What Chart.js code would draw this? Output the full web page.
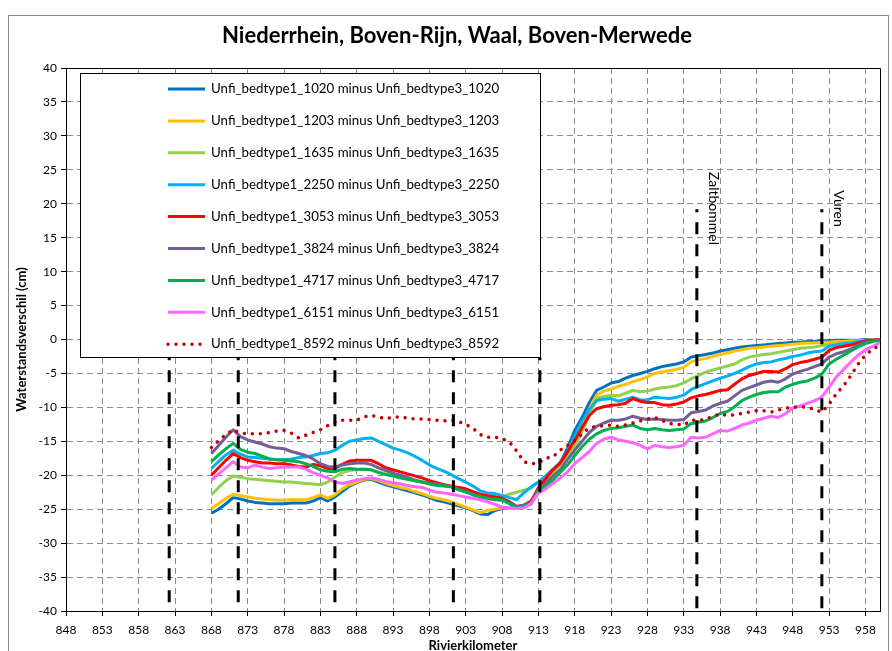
<!DOCTYPE html>
<html>
<head>
<meta charset="utf-8">
<script src="https://cdn.jsdelivr.net/npm/chart.js@4.4.1/dist/chart.umd.min.js"></script>
<style>
  html, body { margin: 0; padding: 0; background: #fff; overflow: hidden; }
  #c { display: block; }
</style>
</head>
<body>
<canvas id="c" width="892" height="651"></canvas>
<script>
// ---- data ----
const titleText = 'Niederrhein, Boven-Rijn, Waal, Boven-Merwede';
const xTitle = 'Rivierkilometer';
const yTitle = 'Waterstandsverschil (cm)';

const xTicks = [848, 853, 858, 863, 868, 873, 878, 883, 888, 893, 898, 903,
                908, 913, 918, 923, 928, 933, 938, 943, 948, 953, 958];

const km = [
  868, 869, 870, 871, 872, 873, 874, 875, 876, 877,
  878, 879, 880, 881, 882, 883, 884, 885, 886, 887,
  888, 889, 890, 891, 892, 893, 894, 895, 896, 897,
  898, 899, 900, 901, 902, 903, 904, 905, 906, 907,
  908, 909, 910, 911, 912, 913, 914, 915, 916, 917,
  918, 919, 920, 921, 922, 923, 924, 925, 926, 927,
  928, 929, 930, 931, 932, 933, 934, 935, 936, 937,
  938, 939, 940, 941, 942, 943, 944, 945, 946, 947,
  948, 949, 950, 951, 952, 953, 954, 955, 956, 957,
  958, 959, 960
];

const d1020 = [
  -25.6, -25.0, -24.2, -23.3, -23.5, -23.8, -24.0, -24.1, -24.2, -24.2,
  -24.2, -24.1, -24.1, -24.1, -23.8, -23.3, -23.8, -23.2, -22.4, -21.6,
  -21.1, -20.7, -20.6, -21.0, -21.4, -21.7, -22.0, -22.3, -22.6, -22.9,
  -23.3, -23.7, -23.9, -24.2, -24.5, -24.8, -25.2, -25.7, -25.8, -25.2,
  -24.9, -24.9, -24.8, -24.7, -24.2, -21.8, -20.6, -19.7, -18.2, -16.0,
  -13.4, -11.5, -9.3, -7.5, -7.0, -6.4, -6.2, -5.7, -5.3, -5.0,
  -4.7, -4.3, -4.0, -3.8, -3.6, -3.3, -2.6, -2.4, -2.2, -2.0,
  -1.7, -1.5, -1.3, -1.1, -1.0, -0.9, -0.8, -0.7, -0.6, -0.5,
  -0.4, -0.4, -0.3, -0.3, -0.2, -0.2, -0.1, -0.1, -0.1, -0.1,
  0, 0, 0
];
const d1203 = [
  -24.9, -24.2, -23.4, -22.8, -23.0, -23.2, -23.4, -23.5, -23.6, -23.7,
  -23.7, -23.6, -23.6, -23.6, -23.3, -22.9, -23.4, -22.9, -22.0, -21.4,
  -21.0, -20.6, -20.5, -20.8, -21.2, -21.5, -21.8, -22.0, -22.4, -22.7,
  -23.1, -23.4, -23.6, -23.9, -24.3, -24.7, -25.1, -25.5, -25.2, -25.0,
  -24.8, -24.9, -24.9, -24.7, -24.2, -22.0, -20.8, -19.8, -18.5, -16.6,
  -14.4, -12.4, -10.2, -8.2, -7.6, -7.3, -6.9, -6.6, -6.2, -5.9,
  -5.5, -5.0, -4.8, -4.6, -4.4, -4.1, -3.3, -3.0, -2.8, -2.5,
  -2.2, -2.0, -1.7, -1.5, -1.3, -1.2, -1.1, -1.0, -0.9, -0.8,
  -0.7, -0.6, -0.5, -0.5, -0.4, -0.4, -0.3, -0.3, -0.2, -0.2,
  -0.1, 0, 0
];
const d1635 = [
  -22.9, -21.8, -20.8, -20.1, -20.3, -20.5, -20.6, -20.7, -20.8, -20.9,
  -21.0, -21.0, -21.1, -21.2, -21.3, -21.4, -21.0, -20.3, -19.6, -19.3,
  -19.2, -19.1, -19.2, -19.5, -19.8, -20.1, -20.3, -20.6, -20.8, -21.0,
  -21.1, -21.2, -21.4, -21.6, -21.9, -22.1, -22.6, -23.0, -23.1, -23.1,
  -23.1, -22.8, -22.5, -22.2, -21.9, -21.0, -20.4, -19.5, -18.6, -17.4,
  -15.8, -13.6, -11.2, -8.7, -8.4, -8.2, -8.3, -7.9, -7.5, -7.7,
  -7.6, -7.3, -7.1, -7.0, -6.8, -6.4, -5.8, -5.3, -4.8, -4.5,
  -4.2, -3.9, -3.6, -3.0, -2.6, -2.4, -2.2, -2.1, -1.9, -1.7,
  -1.5, -1.3, -1.2, -1.1, -0.9, -0.8, -0.6, -0.5, -0.4, -0.3,
  -0.2, -0.1, 0
];
const d2250 = [
  -19.0, -18.0, -17.0, -16.3, -16.9, -17.3, -17.4, -17.5, -17.6, -17.7,
  -17.7, -17.6, -17.4, -17.3, -17.1, -16.8, -16.7, -16.3, -15.6, -15.0,
  -14.8, -14.6, -14.5, -15.0, -15.5, -16.0, -16.3, -16.7, -17.2, -17.8,
  -18.5, -19.0, -19.4, -19.9, -20.5, -21.0, -21.6, -22.3, -22.6, -22.7,
  -23.0, -23.3, -23.6, -22.6, -21.7, -21.0, -20.1, -19.1, -18.1, -16.6,
  -14.2, -12.0, -10.3, -9.0, -8.8, -8.7, -9.1, -8.8, -8.5, -8.9,
  -8.9, -8.5, -8.6, -8.7, -8.5, -8.2, -7.4, -6.9, -6.5, -6.1,
  -5.7, -5.4, -5.0, -4.5, -4.0, -3.6, -3.4, -3.3, -3.0, -2.8,
  -2.5, -2.3, -2.0, -1.8, -1.7, -1.0, -0.8, -0.6, -0.5, -0.3,
  -0.2, -0.1, 0
];
const d3053 = [
  -20.0, -18.9, -17.8, -16.8, -17.4, -17.8, -18.0, -18.2, -18.2, -18.3,
  -18.3, -18.5, -18.7, -18.8, -18.4, -18.6, -19.0, -19.0, -18.4, -17.9,
  -17.8, -17.8, -17.8, -18.3, -18.9, -19.2, -19.5, -19.8, -20.1, -20.4,
  -20.8, -21.1, -21.4, -21.6, -21.8, -22.0, -22.4, -22.8, -23.0, -23.2,
  -23.4, -23.9, -24.6, -24.4, -23.8, -21.9, -20.5, -19.2, -18.2, -16.6,
  -14.9, -13.0, -11.2, -10.2, -9.9, -9.7, -9.6, -9.4, -8.7, -9.1,
  -9.3, -9.3, -9.6, -9.7, -9.5, -9.2, -8.6, -8.3, -8.1, -7.8,
  -7.5, -7.4, -6.6, -5.8, -5.3, -5.0, -4.7, -4.7, -4.8, -4.3,
  -3.7, -3.4, -3.2, -2.9, -2.6, -1.6, -1.2, -1.0, -0.8, -0.5,
  -0.2, -0.1, 0
];
const d3824 = [
  -16.8, -15.6, -14.4, -13.3, -14.3, -14.8, -15.1, -15.4, -15.8, -16.0,
  -16.1, -16.5, -16.8, -17.1, -17.6, -18.3, -18.7, -18.8, -18.5, -18.3,
  -18.2, -18.2, -18.4, -18.9, -19.3, -19.7, -20.0, -20.3, -20.7, -21.0,
  -21.2, -21.3, -21.5, -21.7, -22.1, -22.4, -22.8, -23.1, -23.4, -23.6,
  -23.7, -24.1, -24.6, -24.4, -24.0, -22.1, -21.2, -20.1, -19.2, -17.7,
  -16.3, -15.0, -13.7, -12.8, -12.3, -11.9, -11.9, -11.7, -11.3, -11.6,
  -11.8, -11.7, -11.8, -11.9, -11.9, -11.8, -10.8, -10.6, -10.4, -9.8,
  -9.4, -9.1, -8.3, -7.5, -7.1, -6.7, -6.3, -6.1, -6.3, -5.8,
  -5.1, -4.7, -4.4, -4.0, -3.6, -2.6, -2.1, -1.8, -1.4, -0.8,
  -0.4, -0.2, -0.1
];
const d4717 = [
  -18.0, -17.0, -16.1, -15.3, -16.2, -16.6, -16.8, -17.2, -17.6, -17.7,
  -17.8, -17.9, -18.0, -18.3, -18.7, -19.2, -19.4, -19.5, -19.1, -19.0,
  -19.1, -19.1, -19.2, -19.6, -19.9, -20.1, -20.4, -20.6, -20.8, -21.0,
  -21.3, -21.5, -21.6, -21.7, -22.1, -22.5, -22.9, -23.2, -23.4, -23.5,
  -23.6, -24.2, -24.8, -24.6, -24.2, -22.3, -21.6, -20.7, -19.6, -18.5,
  -17.1, -15.8, -14.7, -13.9, -13.4, -13.1, -13.0, -12.8, -12.6, -13.1,
  -13.3, -13.1, -13.3, -13.4, -13.3, -13.2, -12.4, -12.2, -12.0, -11.5,
  -10.9, -10.6, -9.9, -9.0, -8.5, -8.1, -7.8, -7.7, -7.7, -7.0,
  -6.6, -6.3, -6.1, -5.7, -5.1, -3.6, -2.9, -2.3, -1.7, -1.1,
  -0.6, -0.3, -0.1
];
const d6151 = [
  -20.7, -19.8, -18.9, -18.0, -18.8, -18.9, -18.5, -18.8, -19.0, -18.9,
  -18.8, -18.8, -18.8, -19.1, -19.6, -20.0, -20.4, -21.0, -21.2, -21.0,
  -20.7, -20.5, -20.4, -20.6, -20.9, -21.1, -21.3, -21.5, -21.7, -21.8,
  -22.2, -22.5, -22.6, -22.8, -23.0, -23.2, -23.4, -23.6, -23.9, -24.3,
  -24.7, -24.8, -24.9, -24.8, -24.2, -22.6, -22.0, -21.2, -20.4, -19.5,
  -18.3, -17.4, -16.5, -15.3, -14.7, -14.4, -14.8, -15.0, -15.2, -15.6,
  -16.1, -15.6, -15.8, -15.9, -15.8, -15.6, -14.4, -14.5, -14.4, -13.9,
  -13.4, -13.5, -13.1, -12.6, -12.3, -11.9, -11.6, -11.3, -11.5, -10.9,
  -10.1, -9.8, -9.4, -9.0, -8.5, -7.0, -5.5, -4.4, -3.3, -2.3,
  -1.5, -1.0, -0.5
];
const d8592 = [
  -15.9, -14.9, -14.0, -13.3, -13.8, -13.9, -13.9, -13.9, -13.7, -13.5,
  -13.4, -13.8, -14.5, -14.1, -13.7, -13.3, -12.7, -12.2, -11.9, -11.9,
  -11.9, -11.4, -11.2, -11.4, -11.7, -11.4, -11.4, -11.6, -11.7, -11.7,
  -11.8, -11.9, -12.0, -11.9, -12.1, -12.5, -13.1, -14.0, -14.4, -14.4,
  -14.6, -15.1, -16.4, -18.0, -18.3, -18.2, -17.5, -17.3, -16.3, -15.6,
  -14.9, -13.9, -13.0, -12.8, -12.7, -12.6, -12.8, -12.6, -12.3, -12.0,
  -11.7, -11.5, -11.9, -12.4, -12.5, -12.6, -11.9, -11.9, -11.8, -11.3,
  -11.0, -11.2, -11.1, -10.9, -10.7, -10.5, -10.5, -10.7, -10.4, -10.1,
  -10.0, -9.9, -10.0, -10.3, -10.7, -9.5, -8.0, -6.8, -5.3, -3.6,
  -2.3, -1.4, -0.9
];

const seriesNames = [
  'Unfi_bedtype1_1020 minus Unfi_bedtype3_1020',
  'Unfi_bedtype1_1203 minus Unfi_bedtype3_1203',
  'Unfi_bedtype1_1635 minus Unfi_bedtype3_1635',
  'Unfi_bedtype1_2250 minus Unfi_bedtype3_2250',
  'Unfi_bedtype1_3053 minus Unfi_bedtype3_3053',
  'Unfi_bedtype1_3824 minus Unfi_bedtype3_3824',
  'Unfi_bedtype1_4717 minus Unfi_bedtype3_4717',
  'Unfi_bedtype1_6151 minus Unfi_bedtype3_6151',
  'Unfi_bedtype1_8592 minus Unfi_bedtype3_8592'
];
const seriesValues = [d1020, d1203, d1635, d2250, d3053, d3824, d4717, d6151, d8592];

// river-km of the reference locations and the level their marker reaches
const markerKm  = [862.2, 871.7, 885.0, 901.3, 913.2, 934.8, 952.0];
const markerTop = [-2.6, -2.6, -2.6, -2.6, -2.6, 19.2, 19.2];
const markerNames = ['', '', '', '', '', 'Zaltbommel', 'Vuren'];
const markerNameTop = [0, 0, 0, 0, 0, 24.7, 22.0];

// ---- styles ----
const seriesColors = ['#0070C0', '#FFC000', '#92D050', '#00B0F0', '#FF0000',
                      '#725E98', '#00B050', '#FF66FF', '#C00000'];
const FONT = 'Lato, Calibri, "Open Sans", sans-serif';

const datasets = seriesValues.map((vals, i) => {
  const dotted = i === seriesValues.length - 1;
  return {
    label: seriesNames[i],
    data: km.map((k, j) => ({ x: k, y: vals[j] })),
    borderColor: seriesColors[i],
    backgroundColor: seriesColors[i],
    borderWidth: dotted ? 3.5 : 3,
    borderDash: dotted ? [0.01, 8] : [],
    borderCapStyle: dotted ? 'round' : 'butt',
    borderJoinStyle: 'round',
    pointRadius: 0,
    tension: 0,
    fill: false,
    order: -i
  };
});

// vertical location markers, drawn from the top down so the dash pattern
// begins with a short stub
markerKm.forEach((k, i) => {
  datasets.push({
    label: 'marker' + i,
    data: [{ x: k, y: markerTop[i] }, { x: k, y: -40 }],
    borderColor: '#000',
    borderWidth: 3,
    borderDash: [12, 10],
    borderDashOffset: 9,
    pointRadius: 0,
    fill: false,
    order: -100
  });
});

// frame, title, plot border, in-plot legend and location names
const overlay = {
  id: 'overlay',
  beforeDraw(chart) {
    const c = chart.ctx;
    c.save();
    c.fillStyle = '#fff';
    c.fillRect(0, 0, chart.width, chart.height);
    c.strokeStyle = '#8c8c8c';
    c.lineWidth = 1;
    c.strokeRect(8.5, 15.5, 880, 700);
    c.fillStyle = '#000';
    c.font = 'bold 22px ' + FONT;
    c.textAlign = 'center';
    c.textBaseline = 'middle';
    c.fillText(titleText, 457, 36);
    c.restore();
  },
  afterDatasetsDraw(chart) {
    const c = chart.ctx, a = chart.chartArea;
    const xs = chart.scales.x, ys = chart.scales.y;
    c.save();
    c.strokeStyle = '#000';
    c.lineWidth = 1;
    c.setLineDash([]);
    c.beginPath();
    c.moveTo(a.left, Math.round(a.top) + 0.5);
    c.lineTo(Math.round(a.right) + 0.5, Math.round(a.top) + 0.5);
    c.lineTo(Math.round(a.right) + 0.5, a.bottom);
    c.stroke();

    // location names, rotated
    c.fillStyle = '#000';
    c.font = '14px ' + FONT;
    c.textAlign = 'left';
    c.textBaseline = 'middle';
    markerNames.forEach((n, i) => {
      if (!n) return;
      const x = xs.getPixelForValue(markerKm[i]) + 17;
      const y = ys.getPixelForValue(markerNameTop[i]);
      c.save();
      c.translate(x, y);
      c.rotate(Math.PI / 2);
      c.fillText(n, 0, 0);
      c.restore();
    });

    // legend box
    const bx = 80.5, by = 73.5, bw = 460, bh = 284;
    c.fillStyle = '#fff';
    c.fillRect(bx, by, bw, bh);
    c.strokeStyle = '#000';
    c.lineWidth = 1;
    c.strokeRect(bx, by, bw, bh);
    const n = seriesNames.length;
    for (let i = 0; i < n; i++) {
      const ds = chart.data.datasets[i];
      const y = 89 + i * 31.9;
      c.save();
      c.strokeStyle = ds.borderColor;
      c.lineWidth = ds.borderWidth;
      c.setLineDash(ds.borderDash);
      c.lineCap = ds.borderCapStyle;
      c.beginPath();
      c.moveTo(168, y);
      c.lineTo(205, y);
      c.stroke();
      c.restore();
      c.fillStyle = '#000';
      c.font = '13.3px ' + FONT;
      c.textAlign = 'left';
      c.textBaseline = 'middle';
      c.fillText(ds.label, 211, y);
    }
    c.restore();
  }
};

new Chart(document.getElementById('c'), {
  type: 'line',
  data: { datasets },
  options: {
    responsive: false,
    animation: false,
    events: [],
    layout: { padding: { left: 0, right: 12, top: 68, bottom: 0 } },
    plugins: {
      legend: { display: false },
      tooltip: { enabled: false },
      title: { display: false }
    },
    scales: {
      x: {
        type: 'linear',
        min: 848,
        max: 960,
        afterBuildTicks: axis => { axis.ticks = xTicks.map(v => ({ value: v })); },
        afterFit: axis => { axis.height = 40; },
        ticks: {
          autoSkip: false,
          maxRotation: 0,
          padding: 7,
          color: '#000',
          font: { family: FONT, size: 12 },
          callback: v => String(v)
        },
        grid: { color: '#8c8c8c', lineWidth: 1, tickLength: 5, tickColor: '#000' },
        border: { display: true, color: '#000', width: 1, dash: [6, 4] },
        title: {
          display: true,
          text: xTitle,
          color: '#000',
          font: { family: FONT, size: 13, weight: 'bold' },
          padding: { top: 0, bottom: -3 }
        }
      },
      y: {
        type: 'linear',
        min: -40,
        max: 40,
        afterFit: axis => { axis.width = 66; },
        ticks: {
          stepSize: 5,
          padding: 4,
          color: '#000',
          font: { family: FONT, size: 12 }
        },
        grid: { color: '#8c8c8c', lineWidth: 1, tickLength: 5, tickColor: '#000' },
        border: { display: true, color: '#000', width: 1, dash: [6, 4] },
        title: {
          display: true,
          text: yTitle,
          color: '#000',
          font: { family: FONT, size: 13, weight: 'bold' },
          padding: { top: 14, bottom: 0 }
        }
      }
    }
  },
  plugins: [overlay]
});
</script>
</body>
</html>
